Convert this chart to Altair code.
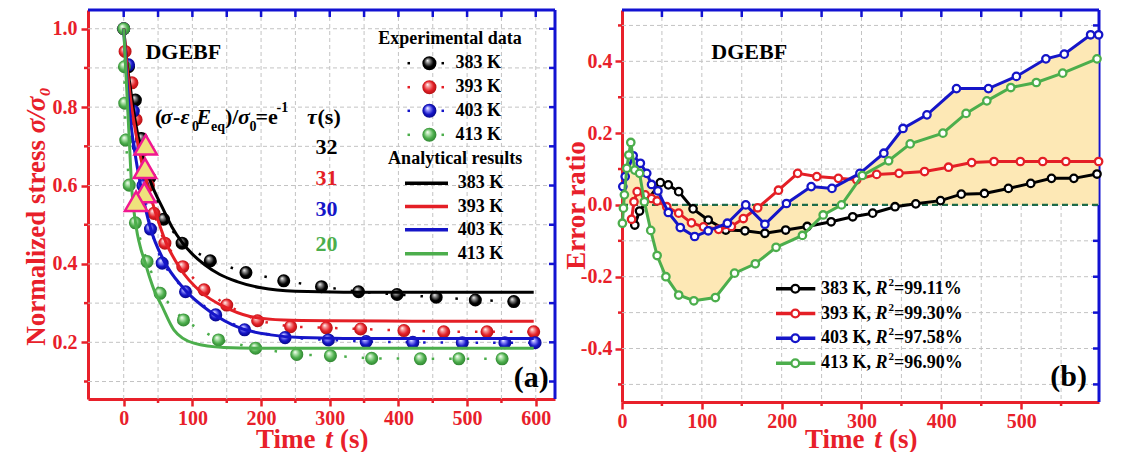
import altair as alt
import pandas as pd

FONT = "Liberation Serif"
RED = "#e8202a"
BLUE = "#1212d2"
GRID = "#c3c3c3"
YELLOW = "#fde8b5"
ZERO_C = "#1d6b49"
TRI_FILL = "#efe27c"
TRI_EDGE = "#f01890"

temps = ["383 K", "393 K", "403 K", "413 K"]
colors = ["#000000", "#e41f26", "#1515c8", "#4cae4c"]
hi_colors = ["#9a9a9a", "#f7a3a3", "#a0a0ff", "#bde8b8"]
dark_colors = ["#000000", "#a80f12", "#06067e", "#2a7d2c"]
tau_s = ["32", "31", "30", "20"]
r2_text = ["=99.11%", "=99.30%", "=97.58%", "=96.90%"]

# ---------------- panel (a): experimental data ----------------
exp_t_383 = [0, 7, 17, 26, 38, 58, 85, 126, 178, 233, 288, 342, 398, 455, 512, 568]
exp_v_383 = [1.0, 0.903, 0.818, 0.72, 0.62, 0.514, 0.453, 0.408, 0.378, 0.357, 0.342, 0.329, 0.322, 0.315, 0.308, 0.304]
exp_t_393 = [0, 2, 12, 18, 28, 36, 44, 60, 86, 117, 150, 195, 243, 295, 345, 408, 466, 529, 597]
exp_v_393 = [1.0, 0.942, 0.862, 0.768, 0.69, 0.60, 0.529, 0.453, 0.393, 0.334, 0.295, 0.255, 0.24, 0.237, 0.234, 0.23, 0.227, 0.227, 0.227]
exp_t_403 = [0, 7, 14, 21, 28, 39, 56, 90, 134, 176, 235, 298, 353, 421, 493, 555, 599]
exp_v_403 = [1.0, 0.908, 0.79, 0.70, 0.60, 0.489, 0.402, 0.329, 0.27, 0.232, 0.212, 0.206, 0.202, 0.2, 0.199, 0.199, 0.199]
exp_t_413 = [0, 1, 1.5, 3, 8, 17, 34, 53, 87, 138, 192, 252, 301, 361, 432, 488, 551]
exp_v_413 = [1.0, 0.903, 0.81, 0.716, 0.601, 0.505, 0.406, 0.325, 0.257, 0.206, 0.185, 0.169, 0.166, 0.159, 0.158, 0.158, 0.158]

# ---------------- panel (a): analytical results ----------------
fit_t_383 = [0, 5, 10, 17, 27, 39, 56, 70, 85, 100, 118, 140, 165, 200, 250, 320, 420, 597]
fit_v_383 = [1.0, 0.91, 0.845, 0.763, 0.68, 0.61, 0.545, 0.495, 0.455, 0.425, 0.398, 0.373, 0.355, 0.339, 0.330, 0.328, 0.328, 0.328]
fit_t_393 = [0, 5, 10, 18, 28, 37, 46, 61, 82, 112, 146, 184, 233, 300, 420, 597]
fit_v_393 = [1.0, 0.9, 0.82, 0.73, 0.645, 0.585, 0.533, 0.457, 0.389, 0.329, 0.291, 0.266, 0.257, 0.255, 0.254, 0.254]
fit_t_403 = [0, 5, 10, 18, 27, 39, 58, 87, 126, 170, 214, 257, 320, 420, 597]
fit_v_403 = [1.0, 0.86, 0.765, 0.665, 0.58, 0.491, 0.41, 0.338, 0.278, 0.236, 0.219, 0.212, 0.21, 0.21, 0.21]
fit_t_413 = [0, 4, 8, 12, 16, 20, 25, 30, 37, 45, 55, 73, 102, 146, 200, 300, 597]
fit_v_413 = [1.0, 0.86, 0.72, 0.585, 0.52, 0.475, 0.438, 0.41, 0.37, 0.33, 0.295, 0.232, 0.198, 0.187, 0.185, 0.185, 0.185]

# e^-1 markers
tri_t = [32, 31, 30, 18]
tri_v = [0.704, 0.644, 0.582, 0.56]

# ---------------- panel (b): error ratio ----------------
err_t_383 = [16, 22, 48, 58, 71, 89, 108, 130, 154, 179, 205, 232, 262, 289, 314, 342, 368, 399, 425, 454, 484, 512, 538, 566, 595]
err_v_383 = [-0.056, -0.017, 0.062, 0.056, 0.037, -0.011, -0.042, -0.07, -0.072, -0.079, -0.07, -0.06, -0.047, -0.033, -0.023, -0.005, 0.003, 0.012, 0.03, 0.032, 0.046, 0.06, 0.074, 0.074, 0.086]
err_t_393 = [12, 15, 19, 29, 37, 44, 56, 71, 87, 102, 121, 137, 152, 170, 196, 220, 244, 271, 294, 319, 347, 379, 409, 438, 466, 499, 527, 556, 597]
err_v_393 = [-0.04, 0.009, 0.037, 0.028, 0.018, 0.011, -0.005, -0.023, -0.05, -0.061, -0.068, -0.06, -0.038, -0.008, 0.041, 0.088, 0.079, 0.074, 0.07, 0.085, 0.088, 0.093, 0.105, 0.118, 0.121, 0.121, 0.121, 0.121, 0.121]
err_t_403 = [1, 4, 14, 23, 31, 37, 45, 58, 73, 91, 108, 132, 155, 179, 206, 237, 263, 298, 328, 352, 382, 419, 459, 494, 531, 554, 587, 597]
err_v_403 = [0.051, 0.079, 0.137, 0.116, 0.088, 0.057, 0.039, -0.021, -0.063, -0.088, -0.072, -0.051, 0.0, -0.054, 0.004, 0.051, 0.046, 0.088, 0.144, 0.213, 0.251, 0.324, 0.324, 0.358, 0.407, 0.42, 0.474, 0.474]
err_t_413 = [0.5, 1.8, 3, 6, 8.5, 11, 16, 22, 28, 36, 44, 55, 71, 90, 117, 141, 167, 193, 226, 252, 275, 301, 334, 361, 402, 431, 457, 487, 519, 552, 595]
err_v_413 = [-0.051, -0.009, 0.028, 0.102, 0.139, 0.174, 0.097, 0.088, 0.009, -0.071, -0.141, -0.2, -0.251, -0.267, -0.258, -0.19, -0.164, -0.118, -0.085, -0.028, 0.0, 0.082, 0.123, 0.17, 0.2, 0.255, 0.29, 0.327, 0.341, 0.367, 0.407]
zero_span = [0, 597]

# ---------------- ticks ----------------
a_x_labels = [0, 100, 200, 300, 400, 500, 600]
a_x_grid = [0, 50, 100, 150, 200, 250, 300, 350, 400, 450, 500, 550, 600]
a_x_minor = [50, 150, 250, 350, 450, 550]
a_y_labels = [0.2, 0.4, 0.6, 0.8, 1.0]
a_y_grid = [0.1, 0.2, 0.3, 0.4, 0.5, 0.6, 0.7, 0.8, 0.9, 1.0]
a_y_minor = [0.1, 0.3, 0.5, 0.7, 0.9]
b_x_labels = [0, 100, 200, 300, 400, 500]
b_x_grid = [50, 100, 150, 200, 250, 300, 350, 400, 450, 500, 550]
b_x_minor = [50, 150, 250, 350, 450, 550]
b_y_labels = [-0.4, -0.2, 0.0, 0.2, 0.4]
b_y_grid = [-0.5, -0.4, -0.3, -0.2, -0.1, 0.0, 0.1, 0.2, 0.3, 0.4, 0.5]
b_y_minor = [-0.5, -0.3, -0.1, 0.1, 0.3, 0.5]

W_A, H_A = 467, 389
W_B, H_B = 477, 392

one = pd.DataFrame({"k": [0]})


def txt(s, x, y, size, color="black", style="normal", align="left", angle=None, baseline="middle"):
    props = dict(text=s, font=FONT, fontSize=size, fontWeight="bold", fontStyle=style,
                 color=color, align=align, baseline=baseline)
    if angle is not None:
        props["angle"] = angle
    return alt.Chart(one).mark_text(**props).encode(x=alt.value(x), y=alt.value(y))


def sphere_fill(i):
    return {"gradient": "radial", "x1": 0.36, "y1": 0.3, "r1": 0, "x2": 0.5, "y2": 0.5, "r2": 0.55,
            "stops": [{"offset": 0, "color": "#ffffff"},
                      {"offset": 0.22, "color": hi_colors[i]},
                      {"offset": 0.62, "color": colors[i]},
                      {"offset": 1, "color": dark_colors[i]}]}


def axis_common(**kw):
    base = dict(title=None, grid=False, domainColor=RED, domainWidth=3, tickColor=RED, tickWidth=2.5,
                tickSize=7, labelColor=RED, labelFont=FONT, labelFontSize=20, labelFontWeight="bold",
                labelOverlap=False, labelFlush=False)
    base.update(kw)
    return alt.Axis(**base)


def frame_layers(W, H, X, Y, xgrid, ygrid, xtop, yright, xminor, yminor):
    L = []
    L.append(alt.Chart(pd.DataFrame({"g": xgrid})).mark_rule(color=GRID, strokeWidth=1, strokeDash=[4, 3])
             .encode(x=X("g"), y=alt.value(0), y2=alt.value(H)))
    L.append(alt.Chart(pd.DataFrame({"g": ygrid})).mark_rule(color=GRID, strokeWidth=1, strokeDash=[4, 3])
             .encode(y=Y("g"), x=alt.value(0), x2=alt.value(W)))
    L.append(alt.Chart(one).mark_rule(color=BLUE, strokeWidth=3)
             .encode(x=alt.value(0), x2=alt.value(W), y=alt.value(0)))
    L.append(alt.Chart(one).mark_rule(color=BLUE, strokeWidth=3)
             .encode(x=alt.value(W), y=alt.value(0), y2=alt.value(H)))
    L.append(alt.Chart(pd.DataFrame({"g": xtop})).mark_rule(color=BLUE, strokeWidth=2.5)
             .encode(x=X("g"), y=alt.value(0), y2=alt.value(7)))
    L.append(alt.Chart(pd.DataFrame({"g": yright})).mark_rule(color=BLUE, strokeWidth=2.5)
             .encode(y=Y("g"), x=alt.value(W - 6), x2=alt.value(W)))
    L.append(alt.Chart(pd.DataFrame({"g": xminor})).mark_rule(color=RED, strokeWidth=2.5)
             .encode(x=X("g"), y=alt.value(H), y2=alt.value(H + 4)))
    L.append(alt.Chart(pd.DataFrame({"g": yminor})).mark_rule(color=RED, strokeWidth=2.5)
             .encode(y=Y("g"), x=alt.value(-4), x2=alt.value(0)))
    return L


# ================= panel (a) =================
sx_a = alt.Scale(domain=[-52, 628], nice=False, zero=False)
sy_a = alt.Scale(domain=[0.0554, 1.0478], nice=False, zero=False)
ax_xa = axis_common(values=a_x_labels, format="d", labelPadding=2)
ax_ya = axis_common(values=a_y_labels, format=".1f", labelPadding=4)
XA = lambda f: alt.X(f"{f}:Q", scale=sx_a, axis=ax_xa)
YA = lambda f: alt.Y(f"{f}:Q", scale=sy_a, axis=ax_ya)

layers_a = frame_layers(W_A, H_A, XA, YA, a_x_grid, a_y_grid, a_x_grid, a_y_grid, a_x_minor, a_y_minor)

exp_t = [exp_t_383, exp_t_393, exp_t_403, exp_t_413]
exp_v = [exp_v_383, exp_v_393, exp_v_403, exp_v_413]
fit_t = [fit_t_383, fit_t_393, fit_t_403, fit_t_413]
fit_v = [fit_v_383, fit_v_393, fit_v_403, fit_v_413]

for i in range(4):
    df = pd.DataFrame({"t": exp_t[i], "v": exp_v[i], "o": list(range(len(exp_t[i])))})
    layers_a.append(alt.Chart(df).mark_line(color=colors[i], strokeWidth=2.5, strokeDash=[2.5, 15])
                    .encode(x=XA("t"), y=YA("v"), order="o:Q"))
for i in range(4):
    df = pd.DataFrame({"t": exp_t[i], "v": exp_v[i]})
    layers_a.append(alt.Chart(df).mark_circle(size=170, opacity=1, fill=sphere_fill(i))
                    .encode(x=XA("t"), y=YA("v")))
for i in range(4):
    df = pd.DataFrame({"t": fit_t[i], "v": fit_v[i], "o": list(range(len(fit_t[i])))})
    layers_a.append(alt.Chart(df).mark_line(color=colors[i], strokeWidth=3, interpolate="monotone")
                    .encode(x=XA("t"), y=YA("v"), order="o:Q"))
layers_a.append(alt.Chart(pd.DataFrame({"t": tri_t, "v": tri_v}))
                .mark_point(shape="triangle-up", size=500, filled=True, fill=TRI_FILL, stroke=TRI_EDGE,
                            strokeWidth=2.5, opacity=1)
                .encode(x=XA("t"), y=YA("v")))

# texts of (a)
layers_a.append(txt("DGEBF", 57.4, 41.5, 22))
anno_parts = ["(", "σ", "-", "ε", "0", "E", "eq", ")/", "σ", "0", "=e", "-1", "τ", "(s)"]
anno_x = [67, 72.5, 85, 92.5, 104, 108.5, 123, 137, 150, 161.5, 167.5, 188.5, 219, 229.5]
anno_kind = ["n", "i", "n", "i", "sub", "i", "sub", "n", "i", "sub", "n", "sup", "i", "n"]
for s, x, k in zip(anno_parts, anno_x, anno_kind):
    if k == "n":
        layers_a.append(txt(s, x, 107, 22))
    elif k == "i":
        layers_a.append(txt(s, x, 107, 22, style="italic"))
    elif k == "sub":
        layers_a.append(txt(s, x, 117, 14))
    else:
        layers_a.append(txt(s, x, 97.5, 14))
tau_y = [137.3, 168.2, 198.5, 233.8]
for i in range(4):
    layers_a.append(txt(tau_s[i], 238.5, tau_y[i], 22, color=colors[i], align="center"))

# legend of (a)
layers_a.append(txt("Experimental data", 362, 29.2, 18, align="center"))
leg_exp_y = [53.2, 77.2, 100.8, 124.8]
for i in range(4):
    y = leg_exp_y[i]
    for x0 in (319.5, 353.5):
        layers_a.append(alt.Chart(one).mark_rule(color=colors[i], strokeWidth=2.5)
                        .encode(x=alt.value(x0), x2=alt.value(x0 + 2.5), y=alt.value(y)))
    layers_a.append(alt.Chart(one).mark_circle(size=200, opacity=1, fill=sphere_fill(i))
                    .encode(x=alt.value(341.4), y=alt.value(y)))
    layers_a.append(txt(temps[i], 367.4, y, 18))
layers_a.append(txt("Analytical results", 367.2, 149.2, 18, align="center"))
leg_fit_y = [173.2, 196.5, 219.8, 243.8]
for i in range(4):
    y = leg_fit_y[i]
    layers_a.append(alt.Chart(one).mark_rule(color=colors[i], strokeWidth=3.5)
                    .encode(x=alt.value(317), x2=alt.value(360), y=alt.value(y)))
    layers_a.append(txt(temps[i], 369.7, y, 18))
layers_a.append(txt("(a)", 443.2, 368.2, 30, align="center"))

# axis titles of (a)
layers_a.append(txt("Time", 227.5, 430, 27, color=RED, align="right"))
layers_a.append(txt("t", 241, 430, 27, color=RED, style="italic", align="center"))
layers_a.append(txt("(s)", 252, 430, 27, color=RED))
layers_a.append(txt("Normalized stress", -51.3, 130, 27, color=RED, align="right", angle=270))
layers_a.append(txt("σ/σ₀", -51.3, 123.2, 27, color=RED, style="italic", align="left", angle=270))

panel_a = alt.layer(*layers_a).properties(width=W_A, height=H_A)

# ================= panel (b) =================
sx_b = alt.Scale(domain=[0, 597.5], nice=False, zero=False)
sy_b = alt.Scale(domain=[-0.549, 0.543], nice=False, zero=False)
ax_xb = axis_common(values=b_x_labels, format="d", labelPadding=2)
ax_yb = axis_common(values=b_y_labels, format=".1f", labelPadding=3,
                    labelExpr="replace(datum.label, '\u2212', '-')",
                    title="Error ratio", titleColor=RED, titleFont=FONT, titleFontSize=27,
                    titleFontWeight="bold", titleX=-46, titleY=195, titleBaseline="middle",
                    titleAngle=270)
XB = lambda f: alt.X(f"{f}:Q", scale=sx_b, axis=ax_xb)
YB = lambda f: alt.Y(f"{f}:Q", scale=sy_b, axis=ax_yb)

layers_b = frame_layers(W_B, H_B, XB, YB, b_x_grid, b_y_grid, b_x_grid, b_y_grid, b_x_minor, b_y_minor)

err_t = [err_t_383, err_t_393, err_t_403, err_t_413]
err_v = [err_v_383, err_v_393, err_v_403, err_v_413]

for i in (3, 2):
    df = pd.DataFrame({"t": err_t[i], "v": err_v[i], "z": [0.0] * len(err_t[i])})
    layers_b.append(alt.Chart(df).mark_area(color=YELLOW, opacity=1, fillOpacity=1)
                    .encode(x=XB("t"), y=YB("v"), y2="z:Q"))
layers_b.append(alt.Chart(pd.DataFrame({"t0": [zero_span[0]], "t1": [zero_span[1]], "z": [0.0]}))
                .mark_rule(color=ZERO_C, strokeWidth=2.2, strokeDash=[6, 4])
                .encode(x=XB("t0"), x2="t1:Q", y=YB("z")))
for i in range(4):
    df = pd.DataFrame({"t": err_t[i], "v": err_v[i], "o": list(range(len(err_t[i])))})
    layers_b.append(alt.Chart(df).mark_line(color=colors[i], strokeWidth=3)
                    .encode(x=XB("t"), y=YB("v"), order="o:Q"))
    layers_b.append(alt.Chart(df).mark_point(shape="circle", size=55, fill="white", stroke=colors[i],
                                             strokeWidth=2.3, opacity=1, fillOpacity=1)
                    .encode(x=XB("t"), y=YB("v")))

layers_b.append(txt("DGEBF", 89.3, 41.5, 22))
leg_b_y = [278.8, 303.5, 328.2, 353.2]
for i in range(4):
    y = leg_b_y[i]
    layers_b.append(alt.Chart(one).mark_rule(color=colors[i], strokeWidth=3.5)
                    .encode(x=alt.value(154), x2=alt.value(193.3), y=alt.value(y)))
    layers_b.append(alt.Chart(one).mark_point(shape="circle", size=60, fill="white", stroke=colors[i],
                                              strokeWidth=2.3, opacity=1, fillOpacity=1)
                    .encode(x=alt.value(173.3), y=alt.value(y)))
    layers_b.append(txt(temps[i] + ",", 199, y, 18))
    layers_b.append(txt("R", 253.5, y, 18, style="italic"))
    layers_b.append(txt("2", 266.5, y - 6, 11))
    layers_b.append(txt(r2_text[i], 272, y, 18))
layers_b.append(txt("(b)", 446.7, 366.5, 30, align="center"))
layers_b.append(txt("Time", 242.5, 430, 27, color=RED, align="right"))
layers_b.append(txt("t", 256, 430, 27, color=RED, style="italic", align="center"))
layers_b.append(txt("(s)", 267, 430, 27, color=RED))

panel_b = alt.layer(*layers_b).properties(width=W_B, height=H_B)

chart = (alt.hconcat(panel_a, panel_b, spacing=4)
         .properties(padding={"left": 14, "top": 0, "right": 4, "bottom": 0})
         .configure_view(stroke="transparent"))

chart.save("out.html", embed_options={"renderer": "svg", "actions": False})
